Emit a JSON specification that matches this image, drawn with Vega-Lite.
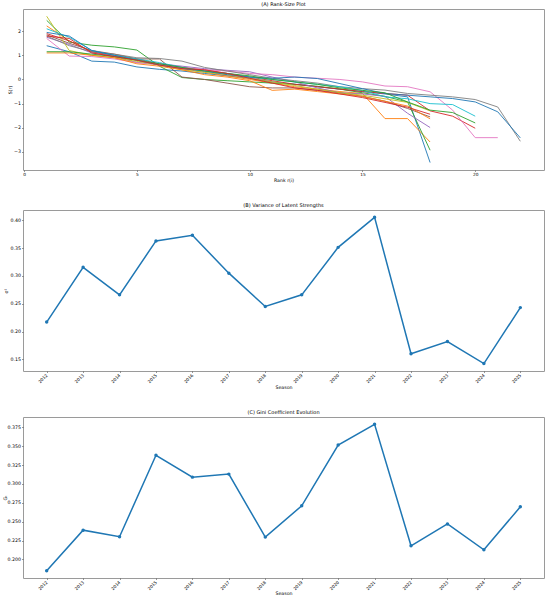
{
"$schema": "https://vega.github.io/schema/vega-lite/v6.json",
"padding": {"left": 2, "top": 1, "right": 4, "bottom": 2},
"config": {
  "font": "DejaVu Sans",
  "view": {"stroke": "#9a9a9a", "strokeWidth": 1},
  "axis": {"labelFontSize": 4.7, "titleFontSize": 4.7, "titleFontWeight": "normal", "labelColor": "#000", "titleColor": "#000", "tickColor": "#333", "tickSize": 1.5, "tickWidth": 0.5, "domain": false, "grid": false, "labelPadding": 1, "titlePadding": 1},
  "axisX": {"labelFontSize": 4.3},
  "title": {"fontSize": 5, "fontWeight": "normal", "anchor": "middle", "offset": 2, "color": "#000"}
},
"datasets": {
"rank": [
{"season":"2012","rank":1,"s":1.40},{"season":"2012","rank":2,"s":1.15},{"season":"2012","rank":3,"s":0.76},{"season":"2012","rank":4,"s":0.72},{"season":"2012","rank":5,"s":0.52},{"season":"2012","rank":6,"s":0.42},{"season":"2012","rank":7,"s":0.35},{"season":"2012","rank":8,"s":0.25},{"season":"2012","rank":9,"s":0.15},{"season":"2012","rank":10,"s":0.05},{"season":"2012","rank":11,"s":-0.10},{"season":"2012","rank":12,"s":-0.20},{"season":"2012","rank":13,"s":-0.30},{"season":"2012","rank":14,"s":-0.40},{"season":"2012","rank":15,"s":-0.50},{"season":"2012","rank":16,"s":-0.60},{"season":"2012","rank":17,"s":-0.72},{"season":"2012","rank":18,"s":-3.44},
{"season":"2013","rank":1,"s":2.22},{"season":"2013","rank":2,"s":1.60},{"season":"2013","rank":3,"s":1.15},{"season":"2013","rank":4,"s":0.95},{"season":"2013","rank":5,"s":0.80},{"season":"2013","rank":6,"s":0.60},{"season":"2013","rank":7,"s":0.45},{"season":"2013","rank":8,"s":0.30},{"season":"2013","rank":9,"s":0.15},{"season":"2013","rank":10,"s":0.00},{"season":"2013","rank":11,"s":-0.15},{"season":"2013","rank":12,"s":-0.30},{"season":"2013","rank":13,"s":-0.40},{"season":"2013","rank":14,"s":-0.50},{"season":"2013","rank":15,"s":-0.58},{"season":"2013","rank":16,"s":-1.62},{"season":"2013","rank":17,"s":-1.62},{"season":"2013","rank":18,"s":-2.59},
{"season":"2014","rank":1,"s":2.45},{"season":"2014","rank":2,"s":1.55},{"season":"2014","rank":3,"s":1.42},{"season":"2014","rank":4,"s":1.35},{"season":"2014","rank":5,"s":1.22},{"season":"2014","rank":6,"s":0.55},{"season":"2014","rank":7,"s":0.08},{"season":"2014","rank":8,"s":0.00},{"season":"2014","rank":9,"s":-0.05},{"season":"2014","rank":10,"s":-0.10},{"season":"2014","rank":11,"s":-0.15},{"season":"2014","rank":12,"s":-0.20},{"season":"2014","rank":13,"s":-0.28},{"season":"2014","rank":14,"s":-0.40},{"season":"2014","rank":15,"s":-0.55},{"season":"2014","rank":16,"s":-0.70},{"season":"2014","rank":17,"s":-0.93},{"season":"2014","rank":18,"s":-2.93},
{"season":"2015","rank":1,"s":1.90},{"season":"2015","rank":2,"s":1.60},{"season":"2015","rank":3,"s":1.15},{"season":"2015","rank":4,"s":1.00},{"season":"2015","rank":5,"s":0.85},{"season":"2015","rank":6,"s":0.65},{"season":"2015","rank":7,"s":0.50},{"season":"2015","rank":8,"s":0.40},{"season":"2015","rank":9,"s":0.25},{"season":"2015","rank":10,"s":0.10},{"season":"2015","rank":11,"s":-0.05},{"season":"2015","rank":12,"s":-0.20},{"season":"2015","rank":13,"s":-0.30},{"season":"2015","rank":14,"s":-0.40},{"season":"2015","rank":15,"s":-0.50},{"season":"2015","rank":16,"s":-0.58},{"season":"2015","rank":17,"s":-0.65},{"season":"2015","rank":18,"s":-1.30},{"season":"2015","rank":19,"s":-1.52},{"season":"2015","rank":20,"s":-2.02},
{"season":"2016","rank":1,"s":1.75},{"season":"2016","rank":2,"s":1.45},{"season":"2016","rank":3,"s":1.10},{"season":"2016","rank":4,"s":0.95},{"season":"2016","rank":5,"s":0.70},{"season":"2016","rank":6,"s":0.65},{"season":"2016","rank":7,"s":0.55},{"season":"2016","rank":8,"s":0.45},{"season":"2016","rank":9,"s":0.38},{"season":"2016","rank":10,"s":0.32},{"season":"2016","rank":11,"s":0.10},{"season":"2016","rank":12,"s":-0.10},{"season":"2016","rank":13,"s":-0.35},{"season":"2016","rank":14,"s":-0.55},{"season":"2016","rank":15,"s":-0.60},{"season":"2016","rank":16,"s":-0.70},{"season":"2016","rank":17,"s":-1.40},{"season":"2016","rank":18,"s":-1.99},
{"season":"2017","rank":1,"s":1.85},{"season":"2017","rank":2,"s":1.50},{"season":"2017","rank":3,"s":1.20},{"season":"2017","rank":4,"s":1.05},{"season":"2017","rank":5,"s":0.85},{"season":"2017","rank":6,"s":0.85},{"season":"2017","rank":7,"s":0.10},{"season":"2017","rank":8,"s":0.00},{"season":"2017","rank":9,"s":-0.15},{"season":"2017","rank":10,"s":-0.30},{"season":"2017","rank":11,"s":-0.35},{"season":"2017","rank":12,"s":-0.35},{"season":"2017","rank":13,"s":-0.45},{"season":"2017","rank":14,"s":-0.55},{"season":"2017","rank":15,"s":-0.70},{"season":"2017","rank":16,"s":-0.90},{"season":"2017","rank":17,"s":-1.20},{"season":"2017","rank":18,"s":-1.55},
{"season":"2018","rank":1,"s":1.70},{"season":"2018","rank":2,"s":0.97},{"season":"2018","rank":3,"s":0.95},{"season":"2018","rank":4,"s":0.85},{"season":"2018","rank":5,"s":0.70},{"season":"2018","rank":6,"s":0.60},{"season":"2018","rank":7,"s":0.50},{"season":"2018","rank":8,"s":0.40},{"season":"2018","rank":9,"s":0.35},{"season":"2018","rank":10,"s":0.25},{"season":"2018","rank":11,"s":0.20},{"season":"2018","rank":12,"s":0.10},{"season":"2018","rank":13,"s":0.05},{"season":"2018","rank":14,"s":0.00},{"season":"2018","rank":15,"s":-0.10},{"season":"2018","rank":16,"s":-0.27},{"season":"2018","rank":17,"s":-0.30},{"season":"2018","rank":18,"s":-0.51},{"season":"2018","rank":19,"s":-1.27},{"season":"2018","rank":20,"s":-2.41},{"season":"2018","rank":21,"s":-2.41},
{"season":"2019","rank":1,"s":1.80},{"season":"2019","rank":2,"s":1.40},{"season":"2019","rank":3,"s":1.15},{"season":"2019","rank":4,"s":1.05},{"season":"2019","rank":5,"s":0.90},{"season":"2019","rank":6,"s":0.87},{"season":"2019","rank":7,"s":0.76},{"season":"2019","rank":8,"s":0.50},{"season":"2019","rank":9,"s":0.35},{"season":"2019","rank":10,"s":0.20},{"season":"2019","rank":11,"s":0.05},{"season":"2019","rank":12,"s":-0.05},{"season":"2019","rank":13,"s":-0.15},{"season":"2019","rank":14,"s":-0.30},{"season":"2019","rank":15,"s":-0.38},{"season":"2019","rank":16,"s":-0.44},{"season":"2019","rank":17,"s":-0.58},{"season":"2019","rank":18,"s":-0.65},{"season":"2019","rank":19,"s":-0.72},{"season":"2019","rank":20,"s":-0.83},{"season":"2019","rank":21,"s":-1.14},{"season":"2019","rank":22,"s":-2.56},
{"season":"2020","rank":1,"s":2.62},{"season":"2020","rank":2,"s":1.20},{"season":"2020","rank":3,"s":1.00},{"season":"2020","rank":4,"s":0.90},{"season":"2020","rank":5,"s":0.75},{"season":"2020","rank":6,"s":0.60},{"season":"2020","rank":7,"s":0.40},{"season":"2020","rank":8,"s":0.30},{"season":"2020","rank":9,"s":0.20},{"season":"2020","rank":10,"s":0.05},{"season":"2020","rank":11,"s":-0.10},{"season":"2020","rank":12,"s":-0.25},{"season":"2020","rank":13,"s":-0.40},{"season":"2020","rank":14,"s":-0.55},{"season":"2020","rank":15,"s":-0.65},{"season":"2020","rank":16,"s":-0.80},{"season":"2020","rank":17,"s":-0.95},{"season":"2020","rank":18,"s":-1.30},
{"season":"2021","rank":1,"s":2.10},{"season":"2021","rank":2,"s":1.75},{"season":"2021","rank":3,"s":1.20},{"season":"2021","rank":4,"s":1.00},{"season":"2021","rank":5,"s":0.85},{"season":"2021","rank":6,"s":0.70},{"season":"2021","rank":7,"s":0.50},{"season":"2021","rank":8,"s":0.35},{"season":"2021","rank":9,"s":0.25},{"season":"2021","rank":10,"s":0.10},{"season":"2021","rank":11,"s":0.00},{"season":"2021","rank":12,"s":-0.10},{"season":"2021","rank":13,"s":-0.20},{"season":"2021","rank":14,"s":-0.30},{"season":"2021","rank":15,"s":-0.45},{"season":"2021","rank":16,"s":-0.72},{"season":"2021","rank":17,"s":-0.80},{"season":"2021","rank":18,"s":-1.00},{"season":"2021","rank":19,"s":-1.04},{"season":"2021","rank":20,"s":-1.52},
{"season":"2022","rank":1,"s":1.95},{"season":"2022","rank":2,"s":1.80},{"season":"2022","rank":3,"s":1.20},{"season":"2022","rank":4,"s":1.00},{"season":"2022","rank":5,"s":0.80},{"season":"2022","rank":6,"s":0.60},{"season":"2022","rank":7,"s":0.45},{"season":"2022","rank":8,"s":0.35},{"season":"2022","rank":9,"s":0.20},{"season":"2022","rank":10,"s":0.10},{"season":"2022","rank":11,"s":0.05},{"season":"2022","rank":12,"s":0.10},{"season":"2022","rank":13,"s":0.04},{"season":"2022","rank":14,"s":-0.17},{"season":"2022","rank":15,"s":-0.38},{"season":"2022","rank":16,"s":-0.58},{"season":"2022","rank":17,"s":-0.65},{"season":"2022","rank":18,"s":-0.72},{"season":"2022","rank":19,"s":-0.79},{"season":"2022","rank":20,"s":-0.93},{"season":"2022","rank":21,"s":-1.34},{"season":"2022","rank":22,"s":-2.42},
{"season":"2023","rank":1,"s":1.10},{"season":"2023","rank":2,"s":1.10},{"season":"2023","rank":3,"s":1.00},{"season":"2023","rank":4,"s":0.90},{"season":"2023","rank":5,"s":0.65},{"season":"2023","rank":6,"s":0.55},{"season":"2023","rank":7,"s":0.40},{"season":"2023","rank":8,"s":0.20},{"season":"2023","rank":9,"s":0.10},{"season":"2023","rank":10,"s":-0.05},{"season":"2023","rank":11,"s":-0.45},{"season":"2023","rank":12,"s":-0.40},{"season":"2023","rank":13,"s":-0.50},{"season":"2023","rank":14,"s":-0.60},{"season":"2023","rank":15,"s":-0.70},{"season":"2023","rank":16,"s":-0.90},{"season":"2023","rank":17,"s":-1.10},{"season":"2023","rank":18,"s":-1.63},
{"season":"2024","rank":1,"s":1.15},{"season":"2024","rank":2,"s":1.15},{"season":"2024","rank":3,"s":1.05},{"season":"2024","rank":4,"s":0.95},{"season":"2024","rank":5,"s":0.80},{"season":"2024","rank":6,"s":0.65},{"season":"2024","rank":7,"s":0.50},{"season":"2024","rank":8,"s":0.35},{"season":"2024","rank":9,"s":0.25},{"season":"2024","rank":10,"s":0.15},{"season":"2024","rank":11,"s":0.00},{"season":"2024","rank":12,"s":-0.10},{"season":"2024","rank":13,"s":-0.20},{"season":"2024","rank":14,"s":-0.35},{"season":"2024","rank":15,"s":-0.45},{"season":"2024","rank":16,"s":-0.55},{"season":"2024","rank":17,"s":-0.93},{"season":"2024","rank":18,"s":-1.27},{"season":"2024","rank":19,"s":-1.37},{"season":"2024","rank":20,"s":-1.80},
{"season":"2025","rank":1,"s":1.80},{"season":"2025","rank":2,"s":1.70},{"season":"2025","rank":3,"s":1.10},{"season":"2025","rank":4,"s":0.95},{"season":"2025","rank":5,"s":0.80},{"season":"2025","rank":6,"s":0.60},{"season":"2025","rank":7,"s":0.45},{"season":"2025","rank":8,"s":0.40},{"season":"2025","rank":9,"s":0.25},{"season":"2025","rank":10,"s":0.05},{"season":"2025","rank":11,"s":-0.15},{"season":"2025","rank":12,"s":-0.35},{"season":"2025","rank":13,"s":-0.45},{"season":"2025","rank":14,"s":-0.60},{"season":"2025","rank":15,"s":-0.75},{"season":"2025","rank":16,"s":-0.95},{"season":"2025","rank":17,"s":-1.15},{"season":"2025","rank":18,"s":-1.44}
],
"stats": [
{"season":2012,"variance":0.217,"gini":0.185},
{"season":2013,"variance":0.3155,"gini":0.2387},
{"season":2014,"variance":0.266,"gini":0.230},
{"season":2015,"variance":0.363,"gini":0.338},
{"season":2016,"variance":0.373,"gini":0.309},
{"season":2017,"variance":0.305,"gini":0.313},
{"season":2018,"variance":0.245,"gini":0.2295},
{"season":2019,"variance":0.266,"gini":0.271},
{"season":2020,"variance":0.3514,"gini":0.3516},
{"season":2021,"variance":0.4054,"gini":0.379},
{"season":2022,"variance":0.160,"gini":0.218},
{"season":2023,"variance":0.182,"gini":0.247},
{"season":2024,"variance":0.1423,"gini":0.2127},
{"season":2025,"variance":0.243,"gini":0.2696}
]
},
"bounds": "flush",
"spacing": 40,
"vconcat": [
{
  "title": "(A) Rank-Size Plot",
  "width": 521, "height": 161,
  "data": {"name": "rank"},
  "mark": {"type": "line", "strokeWidth": 0.9},
  "encoding": {
    "x": {"field": "rank", "type": "quantitative", "scale": {"domain": [-0.05, 23.05], "nice": false, "zero": false}, "axis": {"values": [0, 5, 10, 15, 20], "title": "Rank r(i)", "titleY": 7}},
    "y": {"field": "s", "type": "quantitative", "scale": {"domain": [-3.75, 2.92], "nice": false, "zero": false}, "axis": {"values": [-3, -2, -1, 0, 1, 2], "title": "S(r)", "titleX": -10.5}},
    "color": {"field": "season", "type": "nominal", "legend": null, "scale": {"domain": ["2012","2013","2014","2015","2016","2017","2018","2019","2020","2021","2022","2023","2024","2025"], "range": ["#1f77b4","#ff7f0e","#2ca02c","#d62728","#9467bd","#8c564b","#e377c2","#7f7f7f","#bcbd22","#17becf","#1f77b4","#ff7f0e","#2ca02c","#d62728"]}}
  }
},
{
  "bounds": "flush",
  "spacing": 46,
  "vconcat": [
    {
      "title": "(B) Variance of Latent Strengths",
      "width": 521, "height": 161,
      "data": {"name": "stats"},
      "mark": {"type": "line", "color": "#1f77b4", "strokeWidth": 1.5, "point": {"filled": true, "size": 12, "color": "#1f77b4", "opacity": 1}},
      "encoding": {
        "x": {"field": "season", "type": "quantitative", "scale": {"domain": [2011.35, 2025.65], "nice": false, "zero": false}, "axis": {"values": [2012,2013,2014,2015,2016,2017,2018,2019,2020,2021,2022,2023,2024,2025], "format": "d", "labelAngle": -45, "labelAlign": "right", "labelBaseline": "middle", "labelPadding": 2, "title": "Season", "titleY": 13}},
        "y": {"field": "variance", "type": "quantitative", "scale": {"domain": [0.129, 0.4186], "nice": false, "zero": false}, "axis": {"values": [0.15, 0.20, 0.25, 0.30, 0.35, 0.40], "format": ".2f", "title": "σ²", "titleX": -14.5}}
      }
    },
    {
      "title": "(C) Gini Coefficient Evolution",
      "width": 521, "height": 161,
      "data": {"name": "stats"},
      "mark": {"type": "line", "color": "#1f77b4", "strokeWidth": 1.5, "point": {"filled": true, "size": 12, "color": "#1f77b4", "opacity": 1}},
      "encoding": {
        "x": {"field": "season", "type": "quantitative", "scale": {"domain": [2011.35, 2025.65], "nice": false, "zero": false}, "axis": {"values": [2012,2013,2014,2015,2016,2017,2018,2019,2020,2021,2022,2023,2024,2025], "format": "d", "labelAngle": -45, "labelAlign": "right", "labelBaseline": "middle", "labelPadding": 2, "title": "Season", "titleY": 12}},
        "y": {"field": "gini", "type": "quantitative", "scale": {"domain": [0.1753, 0.3887], "nice": false, "zero": false}, "axis": {"values": [0.2, 0.225, 0.25, 0.275, 0.3, 0.325, 0.35, 0.375], "format": ".3f", "title": "Gₜ", "titleX": -15.5}}
      }
    }
  ]
}
]
}
